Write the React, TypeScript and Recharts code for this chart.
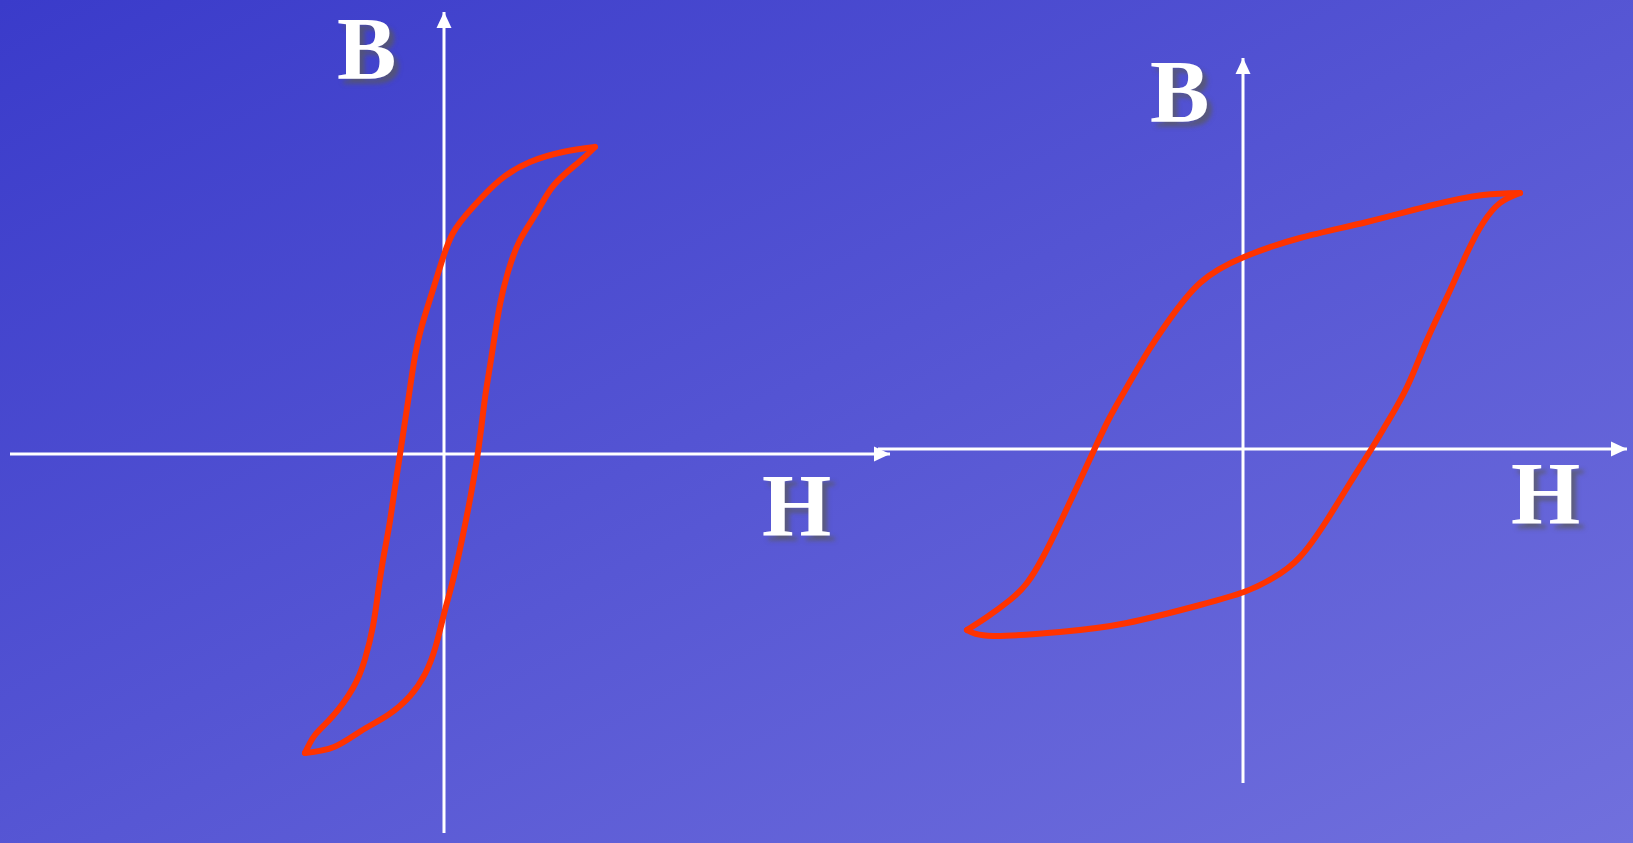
import { LineChart, Line, XAxis, YAxis, ReferenceLine } from 'recharts'

// Lazo izquierdo (material blando): rama superior e inferior, unidades arbitrarias
const leftUpperH = [15.1, 11.9, 8.6, 5.6, 2.9, 0.9, -0.3, -1.3, -2.3, -3.0, -3.5, -4.0, -4.5, -5.0, -5.5, -6.1, -6.6, -7.1, -7.9, -9.1, -11.2, -12.9, -13.9]
const leftUpperB = [30.7, 30.2, 29.2, 27.4, 24.7, 22.1, 19.0, 15.8, 12.5, 9.2, 5.9, 2.6, -0.7, -4.0, -7.3, -10.6, -13.9, -17.2, -20.5, -23.4, -26.3, -28.1, -29.9]
const leftLowerH = [-13.9, -11.0, -8.3, -5.6, -3.4, -1.9, -0.85, 0.0, 0.8, 1.45, 2.1, 2.7, 3.25, 3.7, 4.1, 4.6, 5.1, 5.65, 6.4, 7.6, 9.3, 11.0, 13.5, 15.1]
const leftLowerB = [-29.9, -29.3, -27.7, -26.1, -24.2, -22.0, -19.3, -16.0, -13.0, -10.2, -7.1, -4.0, -0.8, 2.4, 5.6, 8.8, 12.0, 15.2, 18.2, 21.4, 24.2, 26.9, 29.2, 30.7]

// Lazo derecho (material duro)
const rightUpperH = [27.7, 24.0, 19.0, 12.4, 5.7, 0.1, -4.3, -7.6, -9.6, -11.6, -13.3, -14.8, -16.6, -18.3, -20.0, -21.6, -23.3, -25.6, -27.6]
const rightUpperB = [25.6, 25.4, 24.4, 22.7, 21.1, 19.2, 16.6, 12.6, 9.6, 6.2, 3.2, 0.1, -3.8, -7.4, -10.8, -13.4, -15.1, -16.8, -18.1]
const rightLowerH = [-27.6, -25.0, -18.3, -11.6, -4.3, 0.1, 3.0, 5.7, 8.4, 10.7, 12.9, 14.4, 16.4, 18.4, 20.4, 22.4, 24.0, 25.7, 27.7]
const rightLowerB = [-18.1, -18.7, -18.3, -17.4, -15.6, -14.3, -12.9, -10.8, -7.1, -3.4, 0.1, 2.6, 6.2, 10.9, 15.2, 19.6, 22.6, 24.6, 25.6]

const zip = (h: number[], b: number[]) => h.map((v, i) => ({ h: v, b: b[i] }))

const LOOP = '#ff3300'
const AXIS = '#ffffff'

const axisShape = (props: any) => (
  <line
    x1={props.x1}
    y1={props.y1}
    x2={props.x2}
    y2={props.y2}
    stroke={AXIS}
    strokeWidth={3}
    markerEnd="url(#flecha)"
  />
)

function Loop({
  upper,
  lower,
  hDomain,
  bDomain,
  width,
  height,
  left,
  top,
}: {
  upper: Array<{ h: number; b: number }>
  lower: Array<{ h: number; b: number }>
  hDomain: [number, number]
  bDomain: [number, number]
  width: number
  height: number
  left: number
  top: number
}) {
  return (
    <div style={{ position: 'absolute', left, top }}>
      <LineChart width={width} height={height} margin={{ top: 0, right: 0, bottom: 0, left: 0 }}>
        <XAxis type="number" dataKey="h" domain={hDomain} hide allowDataOverflow />
        <YAxis type="number" dataKey="b" domain={bDomain} hide allowDataOverflow />
        <ReferenceLine
          ifOverflow="visible"
          segment={[{ x: hDomain[0], y: 0 }, { x: hDomain[1], y: 0 }]}
          shape={axisShape}
        />
        <ReferenceLine
          ifOverflow="visible"
          segment={[{ x: 0, y: bDomain[0] }, { x: 0, y: bDomain[1] }]}
          shape={axisShape}
        />
        <Line data={upper} dataKey="b" type="natural" stroke={LOOP} strokeWidth={6} strokeLinejoin="round" strokeLinecap="round" dot={false} isAnimationActive={false} />
        <Line data={lower} dataKey="b" type="natural" stroke={LOOP} strokeWidth={6} strokeLinejoin="round" strokeLinecap="round" dot={false} isAnimationActive={false} />
      </LineChart>
    </div>
  )
}

const labelStyle = {
  position: 'absolute' as const,
  fontFamily: '"Liberation Serif", "Times New Roman", serif',
  fontWeight: 'bold' as const,
  fontSize: 89,
  lineHeight: 1,
  color: '#ffffff',
  textShadow: '5px 5px 4px rgba(90,90,90,0.7)',
}

export default function App() {
  return (
    <div
      style={{
        position: 'absolute',
        left: 0,
        top: 0,
        width: 1633,
        height: 843,
        overflow: 'hidden',
        background: 'linear-gradient(to bottom right, #3a3bca, #7170dd)',
      }}
    >
      <svg width={0} height={0} style={{ position: 'absolute' }}>
        <defs>
          <marker
            id="flecha"
            markerUnits="userSpaceOnUse"
            markerWidth={16}
            markerHeight={16}
            viewBox="0 0 16 16"
            refX={16}
            refY={8}
            orient="auto"
          >
            <path d="M0,0.5 L16,8 L0,15.5 z" fill={AXIS} />
          </marker>
        </defs>
      </svg>

      <Loop
        upper={zip(leftUpperH, leftUpperB)}
        lower={zip(leftLowerH, leftLowerB)}
        hDomain={[-43.4, 44.6]}
        bDomain={[-37.9, 44.2]}
        width={880}
        height={821}
        left={10}
        top={12}
      />
      <Loop
        upper={zip(rightUpperH, rightUpperB)}
        lower={zip(rightLowerH, rightLowerB)}
        hDomain={[-36.5, 38.4]}
        bDomain={[-33.4, 39.1]}
        width={749}
        height={725}
        left={878}
        top={58}
      />

      <div style={{ ...labelStyle, left: 337, top: 4 }}>B</div>
      <div style={{ ...labelStyle, left: 762, top: 461 }}>H</div>
      <div style={{ ...labelStyle, left: 1150, top: 47 }}>B</div>
      <div style={{ ...labelStyle, left: 1511, top: 449 }}>H</div>
    </div>
  )
}
